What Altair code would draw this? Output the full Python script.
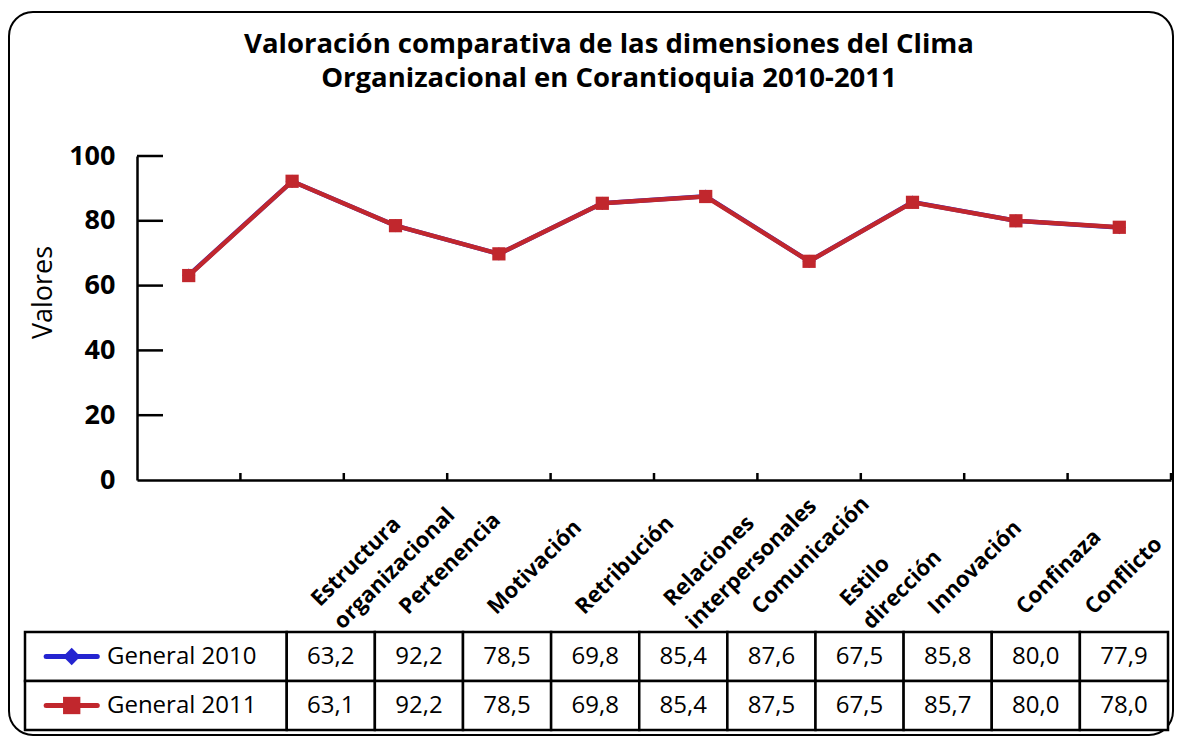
import altair as alt
import pandas as pd

# ---------------- data ----------------
categories = ["Estructura\norganizacional", "Pertenencia", "Motivación", "Retribución",
              "Relaciones\ninterpersonales", "Comunicación", "Estilo\ndirección",
              "Innovación", "Confinaza", "Conflicto"]
general_2010 = [63.2, 92.2, 78.5, 69.8, 85.4, 87.6, 67.5, 85.8, 80.0, 77.9]
general_2011 = [63.1, 92.2, 78.5, 69.8, 85.4, 87.5, 67.5, 85.7, 80.0, 78.0]
series_names = ["General 2010", "General 2011"]
y_ticks = [0, 20, 40, 60, 80, 100]
title_lines = ["Valoración comparativa de las dimensiones del Clima",
               "Organizacional en Corantioquia 2010-2011"]
y_title = "Valores"

# ---------------- style / layout ----------------
BLUE = "#2424D0"
RED = "#C1272D"
FONT = "Open Sans"
PLOT_W, PLOT_H = 1034, 324
TOTAL_W, TOTAL_H = 1166, 729
PAD_L, PAD_T = 129, 148
N = len(categories)
LEGEND_COLS = 2.97
TABLE_RANGE_X = [-112, 1031]
TABLE_RANGE_Y = [476, 574]

series_values = [general_2010, general_2011]

rows = []
for s, vals in zip(series_names, series_values):
    for c, v in zip(categories, vals):
        rows.append({"cat": c, "series": s, "value": v})
long_df = pd.DataFrame(rows)

color_scale = alt.Scale(domain=series_names, range=[BLUE, RED])
shape_scale = alt.Scale(domain=series_names, range=["diamond", "square"])
x_scale = alt.Scale(type="band", domain=categories, paddingInner=0, paddingOuter=0)
y_scale = alt.Scale(domain=[0, 100], nice=False)

x_axis = alt.Axis(labels=False, ticks=False, title=None, domainColor="black",
                  domainWidth=2.5, grid=False)
y_axis = alt.Axis(values=y_ticks, ticks=False, grid=False, labelFont=FONT, labelFontSize=27,
                  labelFontWeight="bold", labelColor="black", labelPadding=22,
                  domainColor="black", domainWidth=2.5, title=y_title, titleFont=FONT,
                  titleFontSize=27, titleFontWeight="normal", titleColor="black",
                  titlePadding=11, titleY=136)

base = alt.Chart(long_df).encode(
    x=alt.X("cat:N", scale=x_scale, axis=x_axis, sort=categories),
    y=alt.Y("value:Q", scale=y_scale, axis=y_axis),
    color=alt.Color("series:N", scale=color_scale, legend=None),
)
lines = base.mark_line(strokeWidth=4.5)
points = base.mark_point(filled=True, size=175, opacity=1).encode(
    shape=alt.Shape("series:N", scale=shape_scale, legend=None))

xt_df = pd.DataFrame({"cat": categories, "value": [0] * N})
xticks = alt.Chart(xt_df).mark_rule(color="black", strokeWidth=2.5).encode(
    x=alt.X("cat:N", scale=x_scale, bandPosition=1, axis=x_axis, sort=categories),
    y=alt.Y("value:Q", scale=y_scale, axis=y_axis),
    y2=alt.value(PLOT_H - 7),
)
yt_df = pd.DataFrame({"value": y_ticks[1:]})
yticks = alt.Chart(yt_df).mark_rule(color="black", strokeWidth=2.5).encode(
    y=alt.Y("value:Q", scale=y_scale, axis=y_axis),
    x=alt.value(0), x2=alt.value(26),
)

frame = alt.Chart(pd.DataFrame({"k": [0]})).mark_rect(
    fill="white", fillOpacity=0, stroke="black", strokeWidth=2, cornerRadius=24
).encode(x=alt.value(-128), x2=alt.value(1036), y=alt.value(-144), y2=alt.value(579))

line_group = alt.layer(frame, lines, points, xticks, yticks)

# ---------------- table ----------------
cells = []
for r, (s, vals) in enumerate(zip(series_names, series_values)):
    cells.append({"row": r, "x0": 0, "x1": LEGEND_COLS, "label": s, "series": s, "kind": "name"})
    for c, v in enumerate(vals):
        cells.append({"row": r, "x0": LEGEND_COLS + c, "x1": LEGEND_COLS + c + 1,
                      "label": f"{v:.1f}".replace(".", ","), "series": s, "kind": "value"})
cell_df = pd.DataFrame(cells)
cell_df["y0"] = cell_df["row"]
cell_df["y1"] = cell_df["row"] + 1
cell_df["ym"] = cell_df["row"] + 0.5
cell_df["xm"] = (cell_df["x0"] + cell_df["x1"]) / 2
cell_df["xname"] = 0.93
cell_df["lx0"] = 0.24
cell_df["lx1"] = 0.82
cell_df["lpx"] = 0.53

tx = alt.Scale(domain=[0, LEGEND_COLS + N], range=TABLE_RANGE_X)
ty = alt.Scale(domain=[0, 2], range=TABLE_RANGE_Y)

tbase = alt.Chart(cell_df)
rects = tbase.mark_rect(fill="white", stroke="black", strokeWidth=2.5).encode(
    x=alt.X("x0:Q", scale=tx, axis=None), x2="x1",
    y=alt.Y("y0:Q", scale=ty, axis=None), y2="y1")
vtexts = tbase.transform_filter(alt.datum.kind == "value").mark_text(
    font=FONT, fontSize=24, color="black", align="center", baseline="middle").encode(
    x=alt.X("xm:Q", scale=tx, axis=None), y=alt.Y("ym:Q", scale=ty, axis=None), text="label:N")
ntexts = tbase.transform_filter(alt.datum.kind == "name").mark_text(
    font=FONT, fontSize=24, color="black", align="left", baseline="middle").encode(
    x=alt.X("xname:Q", scale=tx, axis=None), y=alt.Y("ym:Q", scale=ty, axis=None), text="label:N")
lrules = tbase.transform_filter(alt.datum.kind == "name").mark_rule(
    strokeWidth=5, strokeCap="round").encode(
    x=alt.X("lx0:Q", scale=tx, axis=None), x2="lx1",
    y=alt.Y("ym:Q", scale=ty, axis=None),
    color=alt.Color("series:N", scale=color_scale, legend=None))
lpoints = tbase.transform_filter(alt.datum.kind == "name").mark_point(
    filled=True, size=300, opacity=1).encode(
    x=alt.X("lpx:Q", scale=tx, axis=None), y=alt.Y("ym:Q", scale=ty, axis=None),
    color=alt.Color("series:N", scale=color_scale, legend=None),
    shape=alt.Shape("series:N", scale=shape_scale, legend=None))

lab_df = pd.DataFrame({"cat": categories,
                       "lx": [LEGEND_COLS + i + (0.10 if i == N - 1 else 0.32) for i in range(N)],
                       "ly": [-0.60 if "\n" in c else -0.44 for c in categories]})
clabels = alt.Chart(lab_df).mark_text(
    angle=315, align="left", baseline="middle", lineBreak="\n", lineHeight=32, font=FONT,
    fontSize=22, fontWeight="bold", color="black").encode(
    x=alt.X("lx:Q", scale=tx, axis=None), y=alt.Y("ly:Q", scale=ty, axis=None), text="cat:N")

table_group = alt.layer(rects, vtexts, ntexts, lrules, lpoints, clabels)

chart = alt.layer(line_group, table_group).resolve_scale(
    x="independent", y="independent"
).properties(
    width=PLOT_W, height=PLOT_H,
    title=alt.TitleParams(text=title_lines, font=FONT, fontSize=27.5, fontWeight="bold",
                          color="black", anchor="middle", frame="group", dx=-45,
                          offset=-81, lineHeight=34),
    autosize=alt.AutoSizeParams(type="none"),
    padding={"left": PAD_L, "top": PAD_T, "right": TOTAL_W - PAD_L - PLOT_W,
             "bottom": TOTAL_H - PAD_T - PLOT_H},
).configure(background="white").configure_view(strokeWidth=0)

chart.save("out.html", embed_options={"renderer": "svg", "actions": False})
